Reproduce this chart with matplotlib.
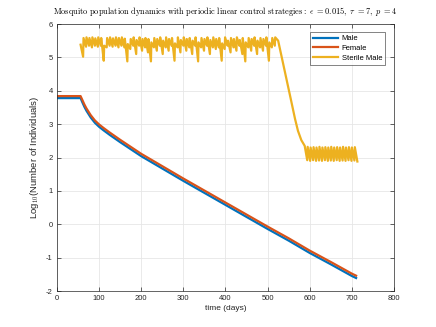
import matplotlib
matplotlib.use("Agg")
import matplotlib.pyplot as plt

plt.rcParams['font.family'] = ['Liberation Sans', 'DejaVu Sans']
plt.rcParams['mathtext.fontset'] = 'cm'
plt.rcParams['axes.unicode_minus'] = False

# wild population (log10)
pop_t = [0, 56, 60, 65, 70, 80, 90, 100, 110, 125, 150, 175, 200, 250, 300,
         350, 400, 450, 500, 550, 600, 650, 700, 710]
male = [3.78, 3.78, 3.66, 3.52, 3.40, 3.20, 3.04, 2.92, 2.82, 2.68, 2.46, 2.25,
        2.04, 1.67, 1.30, 0.94, 0.58, 0.22, -0.14, -0.49, -0.86, -1.20, -1.55, -1.61]
female = [3.84, 3.84, 3.73, 3.59, 3.47, 3.27, 3.11, 2.99, 2.89, 2.75, 2.53, 2.32,
          2.11, 1.74, 1.37, 1.01, 0.65, 0.29, -0.07, -0.42, -0.79, -1.13, -1.48, -1.54]

# sterile males: weekly releases (tau = 7), value at release and just before next one
release_days = list(range(56, 519, 7))
sterile_peak = [5.38, 5.58, 5.60, 5.58, 5.60, 5.57, 5.60, 5.58,
                5.35, 5.58, 5.60, 5.57, 5.60, 5.58, 5.60, 5.56,
                5.40, 5.55, 5.60, 5.52, 5.60, 5.55, 5.58, 5.55,
                5.45, 5.58, 5.55, 5.60, 5.50, 5.60, 5.55, 5.58,
                5.42, 5.60, 5.52, 5.60, 5.55, 5.58, 5.50, 5.60,
                5.45, 5.58, 5.55, 5.60, 5.52, 5.60, 5.55, 5.58,
                5.42, 5.60, 5.50, 5.58, 5.55, 5.60, 5.52, 5.58,
                5.45, 5.58, 5.55, 5.60, 5.50, 5.58, 5.55, 5.60,
                5.45, 5.58, 5.60]
sterile_low = [5.02, 5.32, 5.35, 5.30, 5.35, 5.32, 5.35, 4.90,
               5.30, 5.35, 5.32, 5.35, 5.30, 5.35, 5.30, 4.88,
               5.25, 5.35, 5.10, 5.35, 5.20, 5.30, 5.15, 4.88,
               5.30, 5.20, 5.35, 5.10, 5.30, 5.20, 5.35, 4.90,
               5.30, 5.15, 5.35, 5.20, 5.30, 5.10, 5.35, 4.88,
               5.30, 5.20, 5.35, 5.10, 5.30, 5.25, 5.30, 4.90,
               5.25, 5.35, 5.15, 5.30, 5.20, 5.35, 5.10, 4.88,
               5.30, 5.20, 5.35, 5.10, 5.30, 5.20, 5.35, 4.90,
               5.30, 5.35, 5.20]
decline_t = [525, 535, 545, 555, 565, 572, 580, 588]
decline_v = [5.50, 4.92, 4.33, 3.75, 3.16, 2.80, 2.52, 2.35]
late_days = list(range(588, 708, 7))
late_peak = [2.35, 2.32, 2.30, 2.31, 2.30, 2.32, 2.30, 2.31, 2.30,
             2.32, 2.30, 2.31, 2.30, 2.32, 2.30, 2.31, 2.30, 2.31]
late_low = [1.92, 1.90, 1.92, 1.90, 1.91, 1.90, 1.92, 1.90, 1.91,
            1.90, 1.92, 1.90, 1.91, 1.90, 1.92, 1.90, 1.91, 1.88]

st_t, st_v = [], []
for d, p, lo in zip(release_days, sterile_peak, sterile_low):
    st_t += [d, d + 6]
    st_v += [p, lo]
st_t = st_t[:-1]
st_v = st_v[:-1]
st_t += decline_t
st_v += decline_v
for d, p, lo in zip(late_days, late_peak, late_low):
    st_t += [d, d + 6]
    st_v += [p, lo]

fig = plt.figure(figsize=(4.36, 3.27), dpi=100)
ax = fig.add_axes([0.1307, 0.110, 0.773, 0.8166])
ax.plot(pop_t, male, color='#0072BD', lw=1.6, label='Male')
ax.plot(pop_t, female, color='#D95319', lw=1.6, label='Female')
ax.plot(st_t, st_v, color='#EDB120', lw=1.6, label='Sterile Male')

ax.set_xlim(0, 800)
ax.set_ylim(-2, 6)
ax.set_xticks(range(0, 801, 100))
ax.set_yticks(range(-2, 7))
ax.grid(True, color='#e6e6e6', lw=0.6)
ax.set_axisbelow(True)
ax.tick_params(direction='in', length=3, width=0.5, labelsize=5.5, colors='#262626',
               top=True, right=True, pad=3)
for s in ax.spines.values():
    s.set_color('#262626')
    s.set_linewidth(0.5)

ax.set_xlabel('time (days)', fontsize=6, color='#262626', labelpad=2)
ax.set_ylabel(r'Log$_{10}$(Number of Individuals)', fontsize=6.8, color='#262626', labelpad=4)
ax.set_title(r'$\mathrm{Mosquito\ population\ dynamics\ with\ periodic\ linear\ control\ strategies{:}}'
             r'\ \epsilon\ {=}0.015,\ \tau\ {=}7,\ p\ {=}4$', fontsize=6.0, pad=7)

leg = ax.legend(loc='upper right', fontsize=5.5, frameon=True, fancybox=False,
                edgecolor='#262626', handlelength=3.2, borderpad=0.4, labelspacing=0.3,
                handletextpad=0.5, bbox_to_anchor=(0.985, 0.985))
leg.get_frame().set_linewidth(0.5)

fig.savefig('out.png', dpi=100)
